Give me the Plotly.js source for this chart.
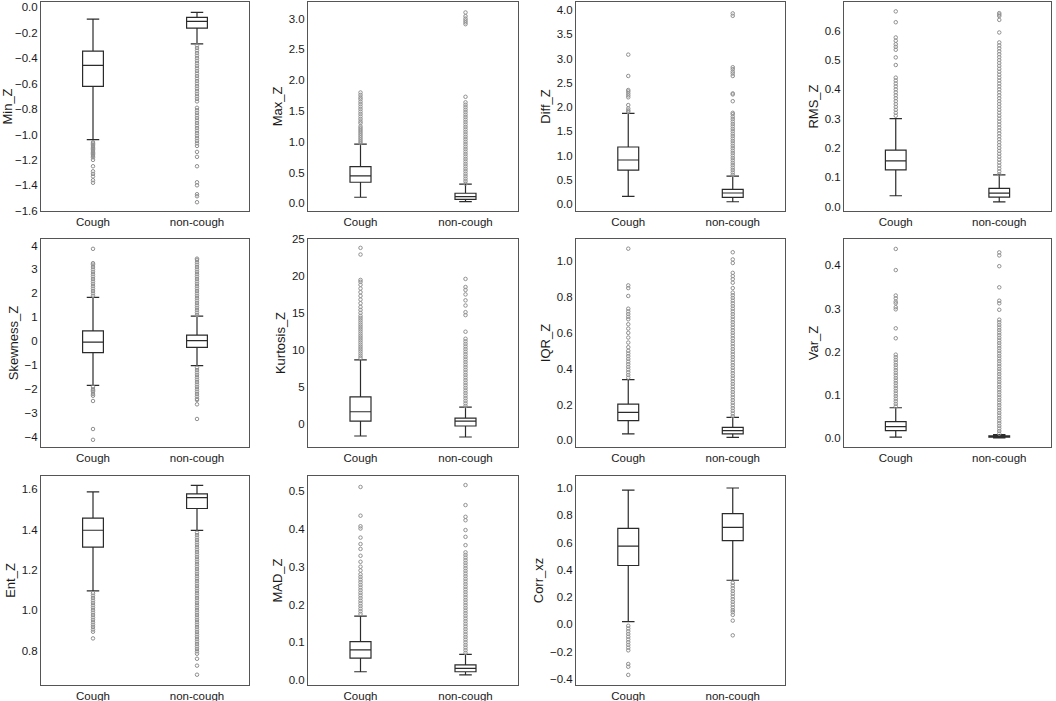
<!DOCTYPE html>
<html>
<head>
<meta charset="utf-8">
<script src="https://cdn.plot.ly/plotly-3.0.1.min.js"></script>
<style>
html,body{margin:0;padding:0;background:#fff;}
#grafico{width:1056px;height:701px;}
</style>
</head>
<body>
<div id="grafico"></div>
<script>
// DATOS
var grupos = ['Cough', 'non-cough'];
var rasgos = ['Min_Z', 'Max_Z', 'Diff_Z', 'RMS_Z', 'Skewness_Z', 'Kurtosis_Z', 'IQR_Z', 'Var_Z', 'Ent_Z', 'MAD_Z', 'Corr_xz'];

// caja de Cough
var coughLo  = [-1.04, 0.098, 0.158, 0.037, -1.84, -1.66, 0.036, 0.002, 1.097, 0.022, 0.021];
var coughQ1  = [-0.622, 0.342, 0.70, 0.125, -0.47, 0.36, 0.11, 0.017, 1.313, 0.058, 0.432];
var coughMed = [-0.457, 0.445, 0.907, 0.156, -0.03, 1.62, 0.156, 0.026, 1.397, 0.080, 0.574];
var coughQ3  = [-0.344, 0.596, 1.175, 0.193, 0.44, 3.64, 0.202, 0.038, 1.457, 0.102, 0.704];
var coughHi  = [-0.092, 0.96, 1.87, 0.30, 1.83, 8.63, 0.339, 0.070, 1.587, 0.169, 0.985];

// caja de non-cough
var nonLo  = [-0.287, 0.026, 0.047, 0.016, -1.01, -1.8, 0.017, 0.0, 1.396, 0.014, 0.324];
var nonQ1  = [-0.163, 0.065, 0.138, 0.032, -0.25, -0.31, 0.036, 0.0018, 1.505, 0.022, 0.614];
var nonMed = [-0.11, 0.108, 0.227, 0.046, 0.03, 0.36, 0.054, 0.003, 1.559, 0.031, 0.711];
var nonQ3  = [-0.079, 0.163, 0.30, 0.062, 0.26, 0.77, 0.072, 0.005, 1.577, 0.040, 0.812];
var nonHi  = [-0.04, 0.31, 0.577, 0.108, 1.05, 2.25, 0.128, 0.0076, 1.62, 0.068, 1.0];

// atipicos
var coughOut = [
  [-1.06,-1.07,-1.08,-1.09,-1.10,-1.11,-1.12,-1.13,-1.14,-1.15,-1.16,-1.17,-1.18,-1.20,-1.25,-1.29,-1.31,-1.33,-1.36,-1.38],
  [0.98,1.01,1.04,1.07,1.10,1.13,1.16,1.19,1.22,1.25,1.30,1.33,1.37,1.41,1.45,1.49,1.53,1.57,1.61,1.65,1.69,1.72,1.76,1.80],
  [1.90,1.93,1.97,2.04,2.20,2.24,2.28,2.32,2.35,2.64,3.08],
  [0.31,0.32,0.33,0.34,0.35,0.36,0.37,0.38,0.39,0.40,0.41,0.42,0.43,0.44,0.483,0.509,0.535,0.545,0.554,0.566,0.577,0.629,0.666],
  [1.9,2.0,2.1,2.2,2.3,2.4,2.5,2.6,2.7,2.8,2.9,3.0,3.1,3.2,3.26,3.86,-1.9,-2.0,-2.05,-2.1,-2.2,-2.27,-2.49,-3.66,-4.11],
  [8.9,9.2,9.5,9.8,10.1,10.4,10.7,11.0,11.3,11.6,11.9,12.2,12.5,12.8,13.1,13.4,13.7,14.0,14.3,14.6,15.0,15.4,15.8,16.3,16.8,17.3,17.8,18.3,18.8,19.2,19.46,22.9,23.8],
  [0.35,0.365,0.38,0.395,0.41,0.425,0.44,0.455,0.47,0.485,0.50,0.52,0.546,0.574,0.60,0.624,0.648,0.676,0.69,0.705,0.72,0.735,0.806,0.85,0.865,1.07],
  [0.073,0.079,0.085,0.091,0.097,0.103,0.109,0.115,0.121,0.127,0.133,0.139,0.145,0.151,0.157,0.163,0.169,0.175,0.181,0.187,0.193,0.231,0.254,0.298,0.303,0.312,0.316,0.3235,0.330,0.389,0.438],
  [1.085,1.073,1.061,1.049,1.037,1.025,1.013,1.001,0.989,0.977,0.965,0.953,0.941,0.929,0.918,0.905,0.894,0.861],
  [0.175,0.182,0.189,0.196,0.203,0.210,0.217,0.224,0.231,0.238,0.245,0.252,0.259,0.266,0.273,0.280,0.290,0.300,0.313,0.329,0.347,0.36,0.377,0.401,0.407,0.435,0.511],
  [-0.01,-0.03,-0.05,-0.07,-0.09,-0.11,-0.13,-0.15,-0.17,-0.19,-0.29,-0.31,-0.37]
];
var nonOut = [
  [-0.30,-0.32,-0.34,-0.36,-0.38,-0.40,-0.42,-0.44,-0.46,-0.48,-0.50,-0.52,-0.54,-0.56,-0.58,-0.60,-0.62,-0.64,-0.66,-0.68,-0.70,-0.72,-0.74,-0.79,-0.81,-0.83,-0.85,-0.87,-0.89,-0.91,-0.93,-0.95,-0.97,-0.99,-1.01,-1.03,-1.05,-1.07,-1.09,-1.137,-1.176,-1.25,-1.376,-1.40,-1.47,-1.486,-1.533],
  [0.32,0.36,0.40,0.44,0.48,0.52,0.56,0.60,0.64,0.68,0.72,0.76,0.80,0.84,0.88,0.92,0.96,1.00,1.04,1.08,1.12,1.16,1.20,1.24,1.28,1.32,1.36,1.40,1.44,1.48,1.52,1.56,1.60,1.64,1.73,2.91,2.94,2.97,3.00,3.04,3.10],
  [0.60,0.65,0.70,0.75,0.80,0.85,0.90,0.95,1.00,1.05,1.10,1.15,1.20,1.25,1.30,1.35,1.40,1.45,1.50,1.55,1.60,1.65,1.70,1.75,1.80,1.85,1.88,2.12,2.26,2.28,2.64,2.69,2.73,2.78,2.82,3.88,3.93],
  [0.11,0.12,0.13,0.14,0.15,0.16,0.17,0.18,0.19,0.20,0.21,0.22,0.23,0.24,0.25,0.26,0.27,0.28,0.29,0.30,0.31,0.32,0.33,0.34,0.35,0.36,0.37,0.38,0.39,0.40,0.41,0.42,0.43,0.44,0.45,0.46,0.47,0.48,0.49,0.50,0.51,0.52,0.53,0.54,0.55,0.56,0.594,0.637,0.65,0.655,0.66],
  [1.1,1.2,1.3,1.4,1.5,1.6,1.7,1.8,1.9,2.0,2.1,2.2,2.3,2.4,2.5,2.6,2.7,2.8,2.9,3.0,3.1,3.2,3.3,3.4,3.45,-1.1,-1.2,-1.3,-1.4,-1.5,-1.6,-1.7,-1.8,-1.9,-2.0,-2.1,-2.2,-2.3,-2.4,-2.45,-2.63,-3.24],
  [2.4,2.75,3.1,3.45,3.8,4.15,4.5,4.85,5.2,5.55,5.9,6.25,6.6,6.95,7.3,7.65,8.0,8.35,8.7,9.05,9.4,9.75,10.1,10.45,10.8,11.15,11.5,12.45,14.7,15.1,16.0,16.7,17.5,18.1,18.5,19.6],
  [0.135,0.15,0.165,0.18,0.195,0.21,0.225,0.24,0.255,0.27,0.285,0.30,0.315,0.33,0.345,0.36,0.375,0.39,0.405,0.42,0.435,0.45,0.465,0.48,0.495,0.51,0.525,0.54,0.555,0.57,0.585,0.60,0.615,0.63,0.645,0.66,0.675,0.69,0.705,0.72,0.735,0.75,0.765,0.78,0.795,0.81,0.825,0.85,0.88,0.90,0.917,0.935,0.99,1.01,1.05],
  [0.010,0.016,0.022,0.028,0.034,0.040,0.046,0.052,0.058,0.064,0.070,0.076,0.082,0.088,0.094,0.100,0.106,0.112,0.118,0.124,0.130,0.136,0.142,0.148,0.154,0.160,0.166,0.172,0.178,0.184,0.190,0.196,0.202,0.208,0.214,0.220,0.226,0.232,0.238,0.244,0.250,0.256,0.262,0.268,0.274,0.297,0.312,0.318,0.349,0.398,0.423,0.43],
  [1.385,1.373,1.361,1.349,1.337,1.325,1.313,1.301,1.289,1.277,1.265,1.253,1.241,1.229,1.217,1.205,1.193,1.181,1.169,1.157,1.145,1.133,1.121,1.109,1.097,1.085,1.073,1.061,1.049,1.037,1.025,1.013,1.001,0.989,0.977,0.965,0.953,0.941,0.929,0.917,0.905,0.893,0.881,0.869,0.857,0.845,0.833,0.821,0.809,0.797,0.785,0.76,0.726,0.681],
  [0.072,0.079,0.086,0.093,0.100,0.107,0.114,0.121,0.128,0.135,0.142,0.149,0.156,0.163,0.170,0.177,0.184,0.191,0.198,0.205,0.212,0.219,0.226,0.233,0.240,0.247,0.254,0.261,0.268,0.275,0.282,0.289,0.296,0.303,0.310,0.317,0.324,0.331,0.338,0.357,0.379,0.397,0.423,0.432,0.463,0.516],
  [0.305,0.285,0.265,0.245,0.225,0.205,0.185,0.165,0.145,0.125,0.105,0.09,0.07,0.028,-0.08]
];

// EJES
var rangos = [[-1.602,0.042],[-0.125,3.27],[-0.144,4.165],[-0.015,0.698],[-4.41,4.27],[-3.15,25.0],
              [-0.037,1.124],[-0.021,0.461],[0.630,1.666],[-0.013,0.540],[-0.444,1.088]];
var pasos = [0.2,0.5,0.5,0.1,1,5,0.2,0.1,0.2,0.1,0.2];
var formatos = ['.1f','.1f','.1f','.1f','d','d','.1f','.1f','.1f','.1f','.1f'];

// posiciones en pixeles de cada panel
var izq = [41,308,576,844];
var der = [249,518,785,1051];
var arriba = [2,239,476];
var abajo = [211,447,685];
var W = 1056, H = 701;

var fuente = 'Liberation Sans, Arial, sans-serif';
var data = [];
var layout = {
  width: W, height: H,
  margin: {l:0, r:0, t:0, b:0},
  paper_bgcolor: '#fff', plot_bgcolor: '#fff',
  showlegend: false,
  font: {family: fuente, color: '#1a1a1a'}
};

for (let i = 0; i < rasgos.length; i++) {
  var n = i + 1;
  var sx = n == 1 ? '' : String(n);
  var col = i % 4, fila = Math.floor(i / 4);

  data.push({
    type: 'box',
    x: grupos,
    q1: [coughQ1[i], nonQ1[i]],
    median: [coughMed[i], nonMed[i]],
    q3: [coughQ3[i], nonQ3[i]],
    lowerfence: [coughLo[i], nonLo[i]],
    upperfence: [coughHi[i], nonHi[i]],
    boxpoints: false,
    width: 0.2,
    whiskerwidth: 0.6,
    fillcolor: '#fff',
    line: {color: '#2b2b2b', width: 1.2},
    hoverinfo: 'skip',
    xaxis: 'x' + sx, yaxis: 'y' + sx
  });

  var xs = [], ys = [];
  coughOut[i].forEach(function (v) { xs.push(grupos[0]); ys.push(v); });
  nonOut[i].forEach(function (v) { xs.push(grupos[1]); ys.push(v); });
  data.push({
    type: 'scatter', mode: 'markers',
    x: xs, y: ys,
    marker: {symbol: 'circle-open', size: 3.5, color: '#909090', line: {width: 1}},
    hoverinfo: 'skip',
    xaxis: 'x' + sx, yaxis: 'y' + sx
  });

  layout['xaxis' + sx] = {
    domain: [izq[col] / W, der[col] / W],
    anchor: 'y' + sx,
    type: 'category',
    categoryorder: 'array', categoryarray: grupos,
    range: [-0.5, 1.5],
    showline: true, mirror: true, linecolor: '#555', linewidth: 1,
    showgrid: false, zeroline: false, ticks: '',
    tickfont: {family: fuente, size: 11.5, color: '#1a1a1a'}
  };
  layout['yaxis' + sx] = {
    domain: [1 - abajo[fila] / H, 1 - arriba[fila] / H],
    anchor: 'x' + sx,
    range: rangos[i],
    tick0: 0, dtick: pasos[i], tickformat: formatos[i],
    showline: true, mirror: true, linecolor: '#555', linewidth: 1,
    showgrid: false, zeroline: false, ticks: '',
    automargin: false,
    tickfont: {family: fuente, size: 11.5, color: '#1a1a1a'},
    title: {text: rasgos[i], standoff: 3, font: {family: fuente, size: 13, color: '#1a1a1a'}}
  };
}

Plotly.newPlot('grafico', data, layout, {staticPlot: true});
</script>
</body>
</html>
